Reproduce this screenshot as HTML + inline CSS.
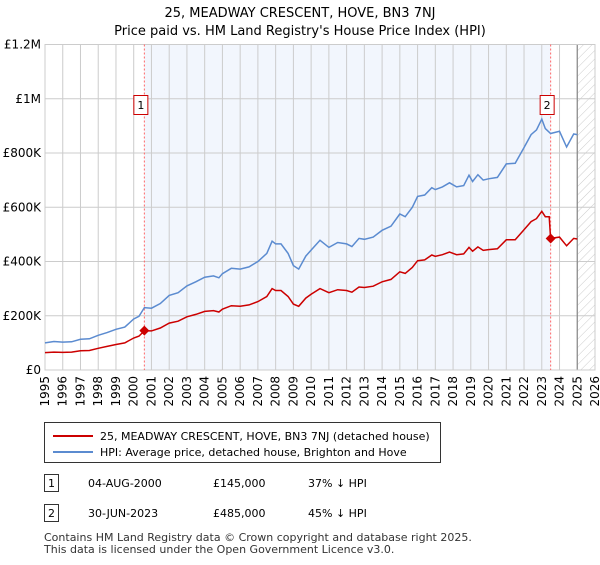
<!DOCTYPE html>
<html><head><meta charset="utf-8"><style>
body{margin:0;background:#fff;font-family:"Liberation Sans","DejaVu Sans",sans-serif;}
svg text{font-family:"DejaVu Sans","Liberation Sans",sans-serif;}
</style></head><body>
<svg id="c" width="600" height="560" viewBox="0 0 600 560" xmlns="http://www.w3.org/2000/svg">
<defs><pattern id="hatch" width="6" height="6" patternUnits="userSpaceOnUse" patternTransform="rotate(45)"><line x1="0" y1="0" x2="0" y2="6" stroke="#ccc" stroke-width="1"/></pattern></defs>
<text x="300" y="17" text-anchor="middle" font-size="13">25, MEADWAY CRESCENT, HOVE, BN3 7NJ</text>
<text x="300" y="35" text-anchor="middle" font-size="13">Price paid vs. HM Land Registry's House Price Index (HPI)</text>
<g id="plot"></g>
<g>
<rect x="44.5" y="422.5" width="396" height="40" fill="#fff" stroke="#333"/>
<line x1="53" y1="436" x2="93" y2="436" stroke="#cc0000" stroke-width="2"/>
<text x="100" y="440" font-size="11">25, MEADWAY CRESCENT, HOVE, BN3 7NJ (detached house)</text>
<line x1="53" y1="452" x2="93" y2="452" stroke="#5b8bd0" stroke-width="2"/>
<text x="100" y="456" font-size="11">HPI: Average price, detached house, Brighton and Hove</text>
</g>
<g>
<rect x="44.5" y="474.5" width="14" height="17" fill="#fff" stroke="#333"/>
<text x="51.5" y="487" text-anchor="middle" font-size="11">1</text>
<text x="88" y="487" font-size="11">04-AUG-2000</text>
<text x="213" y="487" font-size="11">£145,000</text>
<text x="308" y="487" font-size="11">37% ↓ HPI</text>
<rect x="44.5" y="504.5" width="14" height="17" fill="#fff" stroke="#333"/>
<text x="51.5" y="517" text-anchor="middle" font-size="11">2</text>
<text x="88" y="517" font-size="11">30-JUN-2023</text>
<text x="213" y="517" font-size="11">£485,000</text>
<text x="308" y="517" font-size="11">45% ↓ HPI</text>
</g>
<text x="44" y="541" font-size="11" fill="#333">Contains HM Land Registry data © Crown copyright and database right 2025.</text>
<text x="44" y="553" font-size="11" fill="#333">This data is licensed under the Open Government Licence v3.0.</text>
</svg>
<script>
const hpiYears=[1995,1995.5,1996,1996.5,1997,1997.5,1998,1998.5,1999,1999.5,2000,2000.3,2000.6,2001,2001.5,2002,2002.5,2003,2003.5,2004,2004.5,2004.8,2005,2005.5,2006,2006.5,2007,2007.5,2007.8,2008,2008.3,2008.7,2009,2009.3,2009.7,2010,2010.5,2011,2011.5,2012,2012.3,2012.7,2013,2013.5,2014,2014.5,2015,2015.3,2015.7,2016,2016.4,2016.8,2017,2017.4,2017.8,2018.2,2018.6,2018.9,2019.1,2019.4,2019.7,2020,2020.5,2021,2021.5,2022,2022.4,2022.7,2023,2023.2,2023.5,2024,2024.4,2024.8,2025];
const hpiValues=[100,105,103,104,113,115,128,138,150,158,188,198,230,228,245,275,285,310,325,342,347,340,355,375,372,380,400,430,475,465,465,430,385,372,420,442,478,452,470,465,455,485,482,490,515,530,575,565,600,640,645,672,665,675,690,675,680,718,695,720,700,705,710,760,762,820,868,885,925,890,872,880,822,870,868];
const priceYears=[1995,1995.5,1996,1996.5,1997,1997.5,1998,1998.5,1999,1999.5,2000,2000.3,2000.6,2001,2001.5,2002,2002.5,2003,2003.5,2004,2004.5,2004.8,2005,2005.5,2006,2006.5,2007,2007.5,2007.8,2008,2008.3,2008.7,2009,2009.3,2009.7,2010,2010.5,2011,2011.5,2012,2012.3,2012.7,2013,2013.5,2014,2014.5,2015,2015.3,2015.7,2016,2016.4,2016.8,2017,2017.4,2017.8,2018.2,2018.6,2018.9,2019.1,2019.4,2019.7,2020,2020.5,2021,2021.5,2022,2022.4,2022.7,2023,2023.2,2023.42,2023.5,2024,2024.4,2024.8,2025];
const priceValues=[64,66,65,66,71,72,80,87,94,100,118,125,145,144,155,173,180,196,205,216,219,214,224,237,235,240,252,271,300,293,293,271,243,235,265,279,300,285,296,293,287,306,304,309,325,334,362,356,378,403,406,424,419,425,435,425,428,452,438,454,441,444,447,480,480,517,547,558,585,565,565,485,490,458,485,483];
const saleYears=[2000.6,2023.5];
const saleValues=[145,485];
const saleLabels=["1","2"];
const yTicks=[0,200,400,600,800,1000,1200];
const yTickLabels=["£0","£200K","£400K","£600K","£800K","£1M","£1.2M"];
const xTicks=[];for(let y=1995;y<=2026;y++)xTicks.push(y);

const L=45,R=595,T=44.5,B=370;
const x0=1995,x1=2026,yMax=1200;
const sx=v=>L+(v-x0)/(x1-x0)*(R-L);
const sy=v=>B-v/yMax*(B-T);
const NS="http://www.w3.org/2000/svg";
const g=document.getElementById('plot');
function mk(t,a,p){const e=document.createElementNS(NS,t);for(const k in a)e.setAttribute(k,a[k]);(p||g).appendChild(e);return e;}

// shaded ownership region
const sh=mk('rect',{x:sx(saleYears[0]),y:T,width:sx(saleYears[1])-sx(saleYears[0]),height:B-T,fill:'#f2f6fd'});


const hz=mk('rect',{x:sx(2025),y:T,width:R-sx(2025),height:B-T,fill:'url(#hatch)'});



xTicks.forEach((yr,i)=>{
  const gl=mk('line',{x1:sx(yr),x2:sx(yr),y1:T,y2:B,stroke:'#cccccc','stroke-width':1});
  
  
  const t=mk('text',{x:0,y:0,'font-size':12,'text-anchor':'end',transform:`translate(${sx(yr)+4},${B+6}) rotate(-90)`});
  
  
  t.textContent=yr;
});
yTicks.forEach((v,i)=>{
  const gl=mk('line',{x1:L,x2:R,y1:sy(v),y2:sy(v),stroke:'#cccccc','stroke-width':1});
  
  
  const t=mk('text',{x:L-4,y:sy(v)+4,'font-size':12,'text-anchor':'end'});
  
  
  t.textContent=yTickLabels[i];
});
const fl=mk('line',{x1:sx(2025),x2:sx(2025),y1:T,y2:B,stroke:'#888','stroke-width':1.2});


const fr=mk('rect',{x:L,y:T,width:R-L,height:B-T,fill:'none',stroke:'#cccccc'});



saleYears.forEach((yr,i)=>{
  const vl=mk('line',{x1:sx(yr),x2:sx(yr),y1:T,y2:B,stroke:'#ff6666','stroke-width':1,'stroke-dasharray':'2,2'});
  
  
});

function path(xs,vs){return xs.map((x,i)=>(i?'L':'M')+sx(x).toFixed(1)+','+sy(vs[i]).toFixed(1)).join('');}
const hp=mk('path',{d:path(hpiYears,hpiValues),fill:'none',stroke:'#5b8bd0','stroke-width':1.5});


const pp=mk('path',{d:path(priceYears,priceValues),fill:'none',stroke:'#cc0000','stroke-width':1.5});



saleYears.forEach((yr,i)=>{
  const cx=sx(yr),cy=sy(saleValues[i]);
  const d=mk('path',{d:`M${cx},${cy-5}L${cx+5},${cy}L${cx},${cy+5}L${cx-5},${cy}Z`,fill:'#cc0000'});
  
  
  const bx=mk('rect',{x:cx-10.5,y:95.5,width:14,height:19,fill:'#fff',stroke:'#cc0000'});
  
  
  const t=mk('text',{x:cx-3.5,y:109,'font-size':11,'text-anchor':'middle'});
  
  
  t.textContent=saleLabels[i];
});
</script>
</body></html>
